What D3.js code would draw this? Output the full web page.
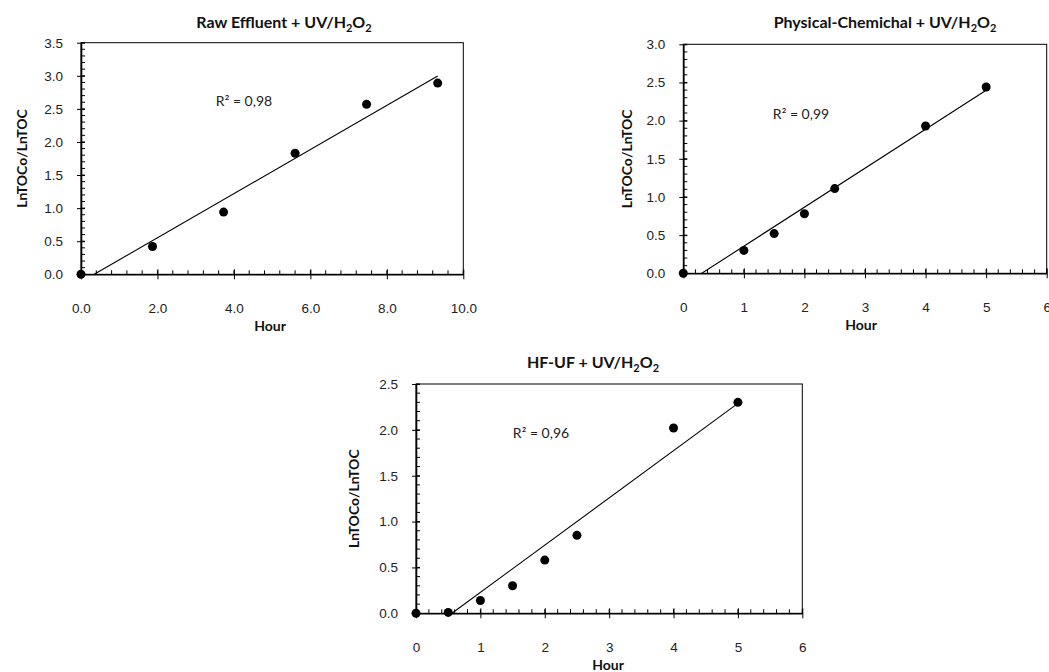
<!DOCTYPE html>
<meta charset="utf-8">
<head>
  <title>TOC removal kinetics</title>
</head>
<style>
body { margin: 0; background: #fff; }
svg { font-family: Lato, "Open Sans", sans-serif; }
.tick-label { font-size: 13.5px; fill: #222; }
.axis-title { font-size: 14px; font-weight: bold; fill: #111; }
.chart-title { font-size: 16px; font-weight: bold; fill: #111; }
.r2 { font-size: 14px; fill: #222; }
</style>
<body>
<svg width="1049" height="672"></svg>
<script src="https://cdnjs.cloudflare.com/ajax/libs/d3/7.8.5/d3.min.js"></script>
<script>
// data
var rawHours = [0, 1.87, 3.73, 5.6, 7.47, 9.33]
var rawValues = [0, 0.42, 0.94, 1.83, 2.57, 2.89]

var pcHours = [0, 1, 1.5, 2, 2.5, 4, 5]
var pcValues = [0, 0.30, 0.52, 0.78, 1.11, 1.93, 2.44]

var ufHours = [0, 0.5, 1, 1.5, 2, 2.5, 4, 5]
var ufValues = [0, 0.01, 0.14, 0.30, 0.58, 0.85, 2.02, 2.30]

var titleNames = ["Raw Effluent + UV/H", "Physical-Chemichal + UV/H", "HF-UF + UV/H"]
var r2Labels = ["R\u00b2 = 0,98", "R\u00b2 = 0,99", "R\u00b2 = 0,96"]
var xMax = [10, 6, 6]
var yMax = [3.5, 3.0, 2.5]
var xStep = [2, 1, 1]
var xFormat = [".1f", "d", "d"]
var xLabel = "Hour"
var yLabel = "LnTOCo/LnTOC"

// panel geometry
var layout = [
  {left: 81, right: 463.3, top: 42.7, bottom: 274.3, titleX: 284, titleY: 28, yLabX: 22, r2X: 244, r2Y: 106, hourX: 270},
  {left: 683.3, right: 1046.7, top: 44.3, bottom: 273.3, titleX: 885, titleY: 28, yLabX: 627, r2X: 801, r2Y: 119, hourX: 861},
  {left: 416, right: 802.3, top: 384, bottom: 613.3, titleX: 593, titleY: 368, yLabX: 354, r2X: 541, r2Y: 438, hourX: 608}
]
var hours = [rawHours, pcHours, ufHours]
var values = [rawValues, pcValues, ufValues]

var svg = d3.select("svg")

function fit(xs, ys) {
  var mx = d3.mean(xs), my = d3.mean(ys)
  var sxy = d3.sum(xs, function(x, i) { return (x - mx) * (ys[i] - my) })
  var sxx = d3.sum(xs, function(x) { return (x - mx) * (x - mx) })
  var b = sxy / sxx
  return {slope: b, icept: my - b * mx}
}

layout.forEach(function(p, k) {
  var g = svg.append("g")
  var x = d3.scaleLinear().domain([0, xMax[k]]).range([p.left, p.right])
  var y = d3.scaleLinear().domain([0, yMax[k]]).range([p.bottom, p.top])

  // frame
  g.append("rect")
    .attr("x", p.left).attr("y", p.top)
    .attr("width", p.right - p.left).attr("height", p.bottom - p.top)
    .attr("fill", "none").attr("stroke", "#000").attr("stroke-width", 1)

  // minor ticks (inside)
  var xMinor = d3.range(0, xMax[k] + 1e-9, xStep[k] / 5)
  g.selectAll(".xminor").data(xMinor).enter().append("line")
    .attr("x1", function(d) { return x(d) }).attr("x2", function(d) { return x(d) })
    .attr("y1", p.bottom).attr("y2", p.bottom - 4)
    .attr("stroke", "#000")
  var yMinor = d3.range(0, yMax[k] + 1e-9, 0.1)
  g.selectAll(".yminor").data(yMinor).enter().append("line")
    .attr("y1", function(d) { return y(d) }).attr("y2", function(d) { return y(d) })
    .attr("x1", p.left).attr("x2", p.left + 4)
    .attr("stroke", "#000")

  // major ticks and labels via axes
  var xAxis = d3.axisBottom(x)
    .tickValues(d3.range(0, xMax[k] + 1e-9, xStep[k]))
    .tickFormat(d3.format(xFormat[k]))
    .tickSizeInner(5).tickSizeOuter(0).tickPadding(24)
  var xg = g.append("g").attr("transform", "translate(0," + p.bottom + ")").call(xAxis)
  xg.select(".domain").attr("stroke-width", 1.6)
  xg.selectAll(".tick line").attr("y1", -5)
  xg.selectAll(".tick text").attr("class", "tick-label").attr("font-family", null).attr("font-size", null)

  var yAxis = d3.axisLeft(y)
    .tickValues(d3.range(0, yMax[k] + 1e-9, 0.5))
    .tickFormat(d3.format(".1f"))
    .tickSizeInner(4).tickSizeOuter(0).tickPadding(14)
  var yg = g.append("g").attr("transform", "translate(" + p.left + ",0)").call(yAxis)
  yg.select(".domain").attr("stroke-width", 1.6)
  yg.selectAll(".tick line").attr("x1", 4)
  yg.selectAll(".tick text").attr("class", "tick-label").attr("font-family", null).attr("font-size", null)

  // trendline
  var xs = hours[k], ys = values[k]
  var f = fit(xs, ys)
  var x0 = Math.max(d3.min(xs), -f.icept / f.slope), x1 = d3.max(xs)
  g.append("line")
    .attr("x1", x(x0)).attr("y1", y(f.slope * x0 + f.icept))
    .attr("x2", x(x1)).attr("y2", y(f.slope * x1 + f.icept))
    .attr("stroke", "#000").attr("stroke-width", 1.1)

  // points
  g.selectAll(".pt").data(xs).enter().append("circle")
    .attr("cx", function(d) { return x(d) })
    .attr("cy", function(d, i) { return y(ys[i]) })
    .attr("r", 4.5).attr("fill", "#000")

  // texts
  var t = g.append("text").attr("class", "chart-title")
    .attr("x", p.titleX).attr("y", p.titleY).attr("text-anchor", "middle")
  t.append("tspan").text(titleNames[k])
  t.append("tspan").attr("font-size", "11px").attr("dy", 4).text("2")
  t.append("tspan").attr("dy", -4).text("O")
  t.append("tspan").attr("font-size", "11px").attr("dy", 4).text("2")

  g.append("text").attr("class", "r2")
    .attr("x", p.r2X).attr("y", p.r2Y).attr("text-anchor", "middle")
    .text(r2Labels[k])

  g.append("text").attr("class", "axis-title")
    .attr("x", p.hourX).attr("y", p.bottom + 57).attr("text-anchor", "middle")
    .text(xLabel)

  g.append("text").attr("class", "axis-title")
    .attr("transform", "translate(" + (p.yLabX + 5) + "," + ((p.top + p.bottom) / 2) + ") rotate(-90)")
    .attr("text-anchor", "middle")
    .text(yLabel)
})
</script>
</body>
